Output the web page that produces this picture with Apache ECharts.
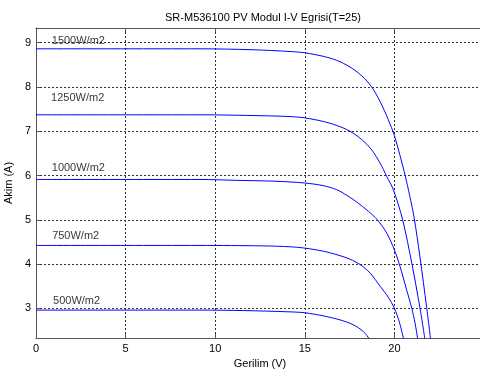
<!DOCTYPE html>
<html>
<head>
<meta charset="utf-8">
<script src="https://cdn.jsdelivr.net/npm/echarts@6/dist/echarts.min.js"></script>
<style>
html,body{margin:0;padding:0;background:#fff;}
#c{width:480px;height:372px;}
</style>
</head>
<body>
<div id="c"></div>
<script>
// Data (voltage V, current A)
var v1500 = [0, 5, 9.15, 12.0, 14.17, 15.0, 16.03, 16.78, 17.52, 18.18, 18.73, 19.2, 19.66, 20.0, 20.3, 20.6, 20.85, 21.1, 21.43, 21.8, 22.02];
var i1500 = [8.86, 8.86, 8.86, 8.84, 8.80, 8.77, 8.69, 8.60, 8.45, 8.25, 8.0, 7.67, 7.26, 6.9, 6.47, 6.0, 5.55, 5.05, 4.15, 3.02, 2.3];
var v1250 = [0, 5, 9.15, 12.5, 14.17, 15.0, 16.03, 16.78, 17.52, 18.18, 18.73, 19.2, 19.57, 19.94, 20.46, 20.97, 21.43, 21.7];
var i1250 = [7.37, 7.37, 7.37, 7.35, 7.33, 7.30, 7.22, 7.13, 7.0, 6.81, 6.58, 6.28, 5.98, 5.68, 5.0, 4.02, 3.0, 2.31];
var v1000 = [0, 5, 9.15, 11.2, 13.34, 15.0, 16.03, 16.78, 17.35, 17.9, 18.55, 19.05, 19.57, 20.0, 20.31, 20.68, 20.97, 21.15, 21.3];
var i1000 = [5.91, 5.91, 5.91, 5.89, 5.87, 5.83, 5.77, 5.68, 5.55, 5.40, 5.19, 5.0, 4.70, 4.32, 3.95, 3.42, 3.0, 2.67, 2.31];
var v750 = [0, 5, 9.15, 12.68, 14.17, 15.0, 16.03, 16.96, 17.52, 18.08, 18.64, 19.2, 19.66, 20.0, 20.27, 20.51];
var i750 = [4.42, 4.42, 4.42, 4.41, 4.39, 4.36, 4.29, 4.19, 4.11, 3.99, 3.80, 3.50, 3.25, 3.0, 2.7, 2.31];
var v500 = [0, 5, 9.15, 11.57, 14.17, 15.0, 16.03, 16.96, 17.7, 18.26, 18.6];
var i500 = [2.96, 2.96, 2.96, 2.95, 2.92, 2.90, 2.83, 2.74, 2.63, 2.48, 2.31];

var labelText = ['1500W/m2', '1250W/m2', '1000W/m2', '750W/m2', '500W/m2'];
var labelV = [0.88, 0.84, 0.88, 0.9, 0.95];
var labelI = [9.03, 7.74, 6.17, 4.64, 3.16];

var xTicks = [0, 5, 10, 15, 20];
var yTicks = [3, 4, 5, 6, 7, 8, 9];

var titleText = 'SR-M536100 PV Modul I-V Egrisi(T=25)';
var xName = 'Gerilim (V)';
var yName = 'Akim (A)';

function pairs(v, i) { return v.map(function (x, k) { return [x, i[k]]; }); }

var FONT = 'Liberation Sans, Arial, sans-serif';
var chart = echarts.init(document.getElementById('c'), null, {renderer: 'canvas'});

var gridLine = {show: true, lineStyle: {color: '#333', type: [2, 2], width: 1}};
var curveStyle = {color: '#0000ff', width: 1};

function curve(v, i) {
  return {type: 'line', data: pairs(v, i), symbol: 'none', smooth: 0.3,
    lineStyle: curveStyle, itemStyle: {color: '#0000ff'}, clip: true, silent: true, z: 3};
}

chart.setOption({
  animation: false,
  backgroundColor: '#fff',
  title: {text: titleText, left: 258, top: 7, textAlign: 'center',
    textStyle: {fontFamily: FONT, fontSize: 11, fontWeight: 'normal', color: '#000'}},
  grid: {left: 36, right: -4, top: 28, bottom: 34, containLabel: false, outerBoundsMode: 'none'},
  xAxis: [{
    type: 'value', min: 0, max: 25, interval: 5,
    name: xName, nameLocation: 'middle', nameGap: 19,
    nameTextStyle: {fontFamily: FONT, fontSize: 11, color: '#000'},
    axisLine: {show: true, onZero: false, lineStyle: {color: '#555', width: 1}},
    axisTick: {show: true, inside: true, length: 4, lineStyle: {color: '#555'}},
    axisLabel: {fontFamily: FONT, fontSize: 11, color: '#000', margin: 5,
      formatter: function (val) { return xTicks.indexOf(val) >= 0 ? String(val) : ''; }},
    splitLine: gridLine
  }, {
    type: 'value', min: 0, max: 25, interval: 5, position: 'top',
    axisLine: {show: true, onZero: false, lineStyle: {color: '#555', width: 1}},
    axisTick: {show: true, inside: true, length: 4, lineStyle: {color: '#555'}},
    axisLabel: {show: false}, splitLine: {show: false}
  }],
  yAxis: {
    type: 'value', min: 2.33, max: 9.33, splitNumber: 7,
    name: yName, nameLocation: 'middle', nameGap: 20, nameRotate: 90,
    nameTextStyle: {fontFamily: FONT, fontSize: 11, color: '#000'},
    axisLine: {show: true, onZero: false, lineStyle: {color: '#555', width: 1}},
    axisTick: {show: true, inside: true, length: 4, lineStyle: {color: '#555'}},
    axisLabel: {fontFamily: FONT, fontSize: 11, color: '#000', margin: 5,
      formatter: function (val) { return yTicks.indexOf(val) >= 0 ? String(val) : ''; }},
    splitLine: gridLine
  },
  series: [
    curve(v1500, i1500), curve(v1250, i1250), curve(v1000, i1000), curve(v750, i750), curve(v500, i500),
    {type: 'scatter', symbolSize: 0, silent: true, z: 4,
      data: labelV.map(function (x, k) { return {value: [x, labelI[k]], name: labelText[k]}; }),
      label: {show: true, position: 'right', distance: 0, formatter: '{b}',
        fontFamily: FONT, fontSize: 11, color: '#000', backgroundColor: 'transparent'}}
  ]
});
</script>
</body>
</html>
